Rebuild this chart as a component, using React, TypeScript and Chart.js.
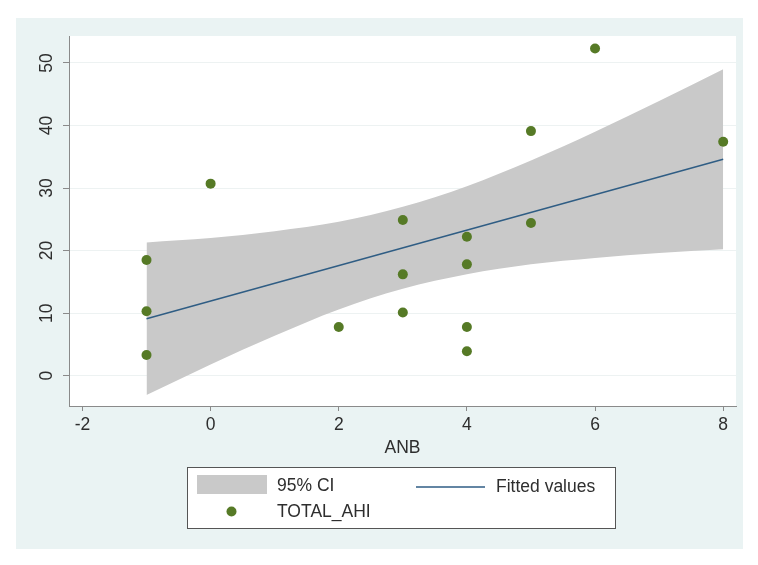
import React, { useEffect, useRef } from "react";
import { Chart, registerables } from "chart.js";

Chart.register(...registerables);

// ---- data ----
const anbValues = [-1, -1, -1, 0, 2, 3, 3, 3, 4, 4, 4, 4, 5, 5, 6, 8];
const ahiValues = [18.5, 10.3, 3.3, 30.7, 7.8, 24.9, 16.2, 10.1, 22.2, 17.8, 7.8, 3.9, 39.1, 24.4, 52.3, 37.4];

const fitX = [-1, 8];
const fitY = [9.1, 34.6];

const ciX = [-1, 0, 1, 2, 3, 4, 5, 6, 7, 8];
const ciUpper = [21.3, 22.0, 23.1, 24.6, 27.0, 30.3, 34.4, 39.0, 43.9, 49.0];
const ciLower = [-3.1, 1.8, 6.4, 10.6, 13.9, 16.2, 17.8, 18.8, 19.6, 20.2];

const xTicks = [-2, 0, 2, 4, 6, 8];
const yTicks = [0, 10, 20, 30, 40, 50];

const xTitle = "ANB";
const legendLabels = ["95% CI", "Fitted values", "TOTAL_AHI"];

// ---- styles ----
const FONT = '"Liberation Sans", Arial, sans-serif';
const FONT_SIZE = 17.5;
const TEXT_COLOR = "#2e2e2e";
const PANEL_COLOR = "#eaf3f3";
const CI_COLOR = "#c9c9c9";
const FIT_COLOR = "#2f5d84";
const POINT_COLOR = "#567a26";

const bgPlugin = {
  id: "stataBg",
  beforeDraw(chart: any) {
    const { ctx, chartArea } = chart;
    ctx.save();
    ctx.fillStyle = "#ffffff";
    ctx.fillRect(0, 0, chart.width, chart.height);
    ctx.fillStyle = PANEL_COLOR;
    ctx.fillRect(16, 18, 727, 531);
    ctx.fillStyle = "#ffffff";
    ctx.fillRect(chartArea.left, chartArea.top, chartArea.right - chartArea.left, chartArea.bottom - chartArea.top);
    ctx.restore();
  },
};

const overlayPlugin = {
  id: "stataOverlay",
  afterDraw(chart: any) {
    const { ctx } = chart;
    const yScale = chart.scales.y;
    ctx.save();
    // rotated y tick labels
    ctx.fillStyle = TEXT_COLOR;
    ctx.font = `${FONT_SIZE}px ${FONT}`;
    ctx.textAlign = "center";
    ctx.textBaseline = "middle";
    yTicks.forEach((v) => {
      const py = yScale.getPixelForValue(v);
      ctx.save();
      ctx.translate(47, py);
      ctx.rotate(-Math.PI / 2);
      ctx.fillText(String(v), 0, 0);
      ctx.restore();
    });

    // legend
    const bx = 187.5, by = 467.5, bw = 428, bh = 61;
    ctx.fillStyle = "#ffffff";
    ctx.fillRect(bx, by, bw, bh);
    ctx.strokeStyle = "#555555";
    ctx.lineWidth = 1;
    ctx.strokeRect(bx, by, bw, bh);

    ctx.fillStyle = CI_COLOR;
    ctx.fillRect(197, 475, 70, 19);

    ctx.strokeStyle = FIT_COLOR;
    ctx.lineWidth = 1.5;
    ctx.beginPath();
    ctx.moveTo(416, 487);
    ctx.lineTo(485, 487);
    ctx.stroke();

    ctx.fillStyle = POINT_COLOR;
    ctx.beginPath();
    ctx.arc(231.5, 511.5, 5, 0, Math.PI * 2);
    ctx.fill();

    ctx.fillStyle = TEXT_COLOR;
    ctx.textAlign = "left";
    ctx.textBaseline = "middle";
    ctx.fillText(legendLabels[0], 277, 486);
    ctx.fillText(legendLabels[1], 496, 487);
    ctx.fillText(legendLabels[2], 277, 512);
    ctx.restore();
  },
};

export default function App() {
  const ref = useRef<HTMLCanvasElement | null>(null);

  useEffect(() => {
    if (!ref.current) return;
    const pts = anbValues.map((x, i) => ({ x, y: ahiValues[i] }));
    const fit = fitX.map((x, i) => ({ x, y: fitY[i] }));
    const up = ciX.map((x, i) => ({ x, y: ciUpper[i] }));
    const lo = ciX.map((x, i) => ({ x, y: ciLower[i] }));

    const chart = new Chart(ref.current, {
      type: "scatter",
      data: {
        datasets: [
          {
            label: legendLabels[2],
            data: pts,
            backgroundColor: POINT_COLOR,
            borderColor: POINT_COLOR,
            borderWidth: 0,
            pointRadius: 5,
          },
          {
            label: legendLabels[1],
            data: fit,
            showLine: true,
            borderColor: FIT_COLOR,
            borderWidth: 1.5,
            pointRadius: 0,
          },
          {
            label: "ci upper",
            data: up,
            showLine: true,
            borderWidth: 0,
            borderColor: "rgba(0,0,0,0)",
            backgroundColor: CI_COLOR,
            pointRadius: 0,
            cubicInterpolationMode: "monotone",
            fill: "+1",
          },
          {
            label: "ci lower",
            data: lo,
            showLine: true,
            borderWidth: 0,
            borderColor: "rgba(0,0,0,0)",
            pointRadius: 0,
            cubicInterpolationMode: "monotone",
          },
        ],
      } as any,
      options: {
        animation: false,
        responsive: false,
        devicePixelRatio: 1,
        layout: { padding: { left: 0, right: 22, top: 36, bottom: 99 } },
        plugins: {
          legend: { display: false },
          tooltip: { enabled: false },
        },
        scales: {
          x: {
            type: "linear",
            min: -2.21,
            max: 8.2,
            afterBuildTicks: (s: any) => {
              s.ticks = xTicks.map((v) => ({ value: v }));
            },
            afterFit: (s: any) => {
              s.height = 60;
            },
            border: { display: true, color: "#8a8a8a", width: 1 },
            grid: {
              drawOnChartArea: false,
              drawTicks: true,
              tickLength: 5,
              tickColor: "#8a8a8a",
            },
            ticks: {
              color: TEXT_COLOR,
              font: { family: FONT, size: FONT_SIZE },
              padding: 4,
              maxRotation: 0,
              minRotation: 0,
            },
            title: {
              display: true,
              text: xTitle,
              color: TEXT_COLOR,
              font: { family: FONT, size: FONT_SIZE },
              padding: { top: 0, bottom: 7 },
            },
          },
          y: {
            type: "linear",
            min: -4.84,
            max: 54.3,
            afterBuildTicks: (s: any) => {
              s.ticks = yTicks.map((v) => ({ value: v }));
            },
            afterFit: (s: any) => {
              s.width = 69;
            },
            border: { display: true, color: "#8a8a8a", width: 1 },
            grid: {
              drawOnChartArea: true,
              color: "#edf2f2",
              drawTicks: true,
              tickLength: 6,
              tickColor: "#8a8a8a",
            },
            ticks: {
              color: "rgba(0,0,0,0)",
              font: { family: FONT, size: FONT_SIZE },
            },
          },
        },
      } as any,
      plugins: [bgPlugin, overlayPlugin],
    });
    return () => chart.destroy();
  }, []);

  return (
    <canvas
      ref={ref}
      width={758}
      height={565}
      style={{ position: "fixed", left: 0, top: 0, width: 758, height: 565 }}
    />
  );
}
